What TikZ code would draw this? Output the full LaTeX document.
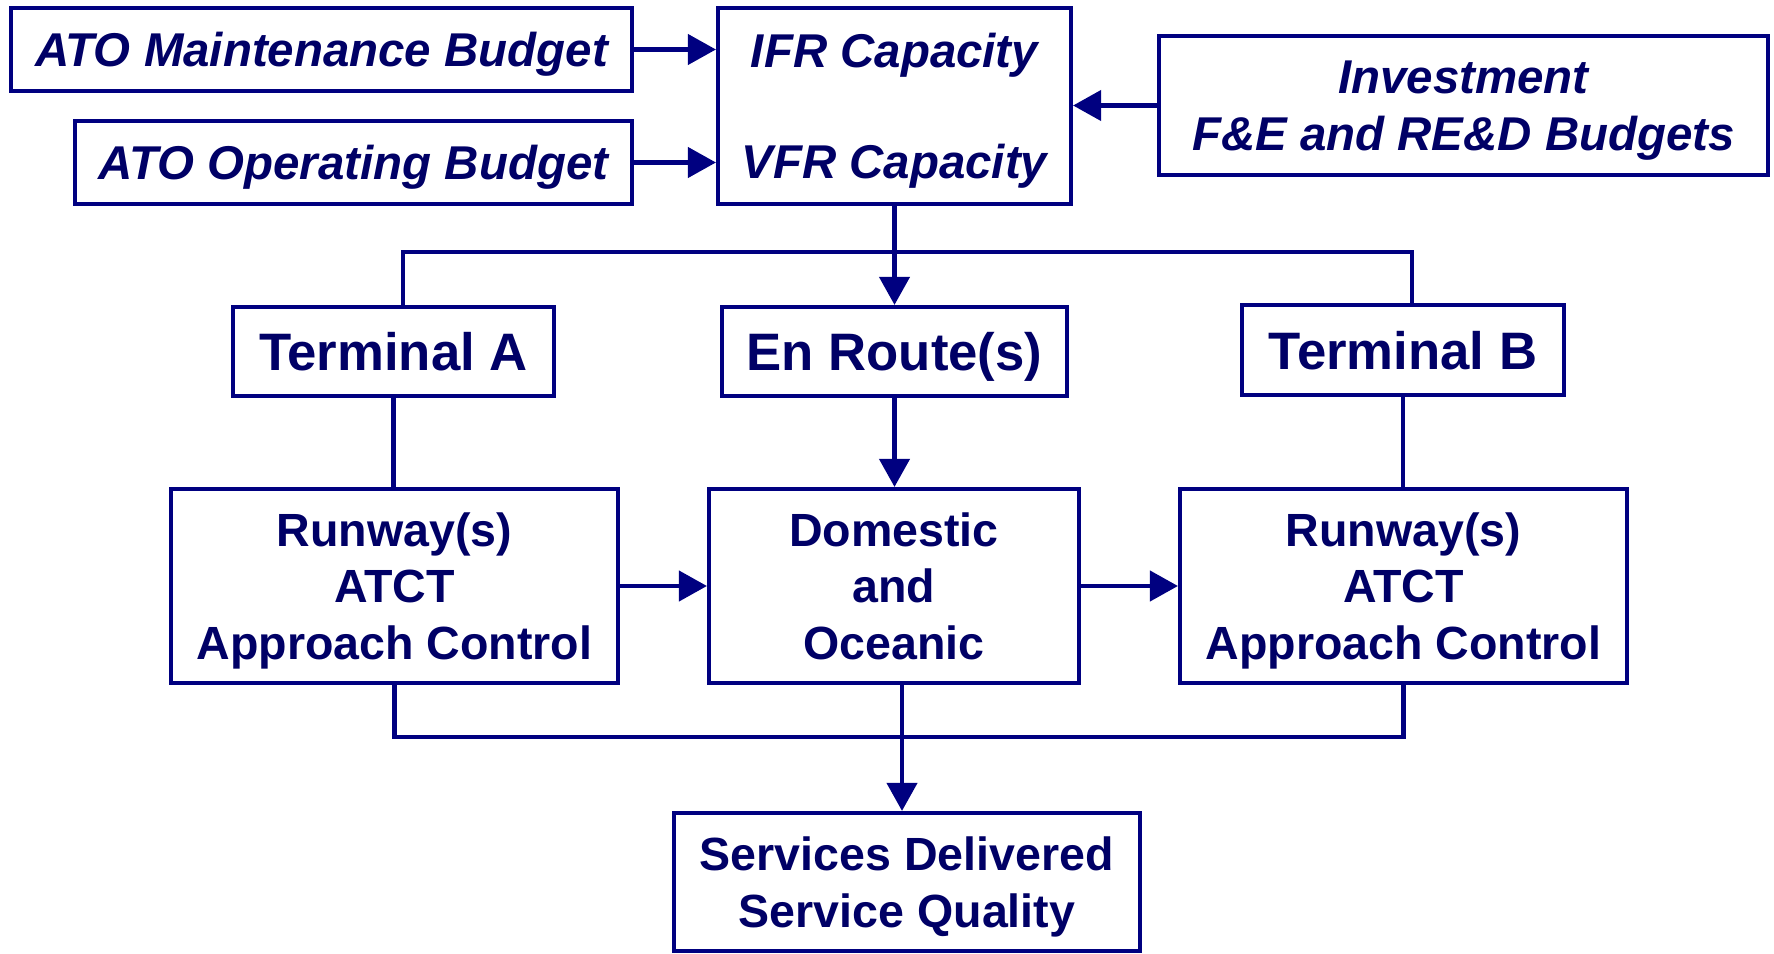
\documentclass[tikz,border=0pt]{standalone}
\usepackage{fontspec}
\setmainfont{Liberation Sans}
\usepackage{xcolor}
\usetikzlibrary{arrows.meta}
\usetikzlibrary{calc}
\definecolor{atoblue}{RGB}{0,0,128}
\definecolor{atotext}{RGB}{0,0,102}
\tikzstyle{box}=[draw=atoblue, line width=2.4pt, text=atotext, align=center, inner sep=0pt, text depth=0pt, font=\bfseries\fontsize{26.5}{32.2}\selectfont]
\tikzstyle{ibox}=[box, font=\bfseries\itshape\fontsize{27}{32.2}\selectfont]
\tikzstyle{tbox}=[box, font=\bfseries\fontsize{30}{36}\selectfont]
\tikzstyle{link}=[draw=atoblue, line width=2.4pt]
\tikzstyle{arr}=[link, -{Triangle[length=0.56cm,width=0.6cm]}]

\begin{document}
\begin{tikzpicture}[x=0.02cm, y=-0.02cm]
\useasboundingbox (0,0) rectangle (1774,953);
% budgets feeding capacity
\node[ibox, minimum width=12.42cm, minimum height=1.66cm] (maint) at (321.5,49.5) {ATO Maintenance Budget};
\node[ibox, minimum width=11.14cm, minimum height=1.66cm] (oper) at (353.5,162.5) {ATO Operating Budget};
\node[ibox, minimum width=7.06cm, minimum height=3.92cm] (cap) at (894.5,106) {IFR Capacity\\[1.09cm]VFR Capacity};
\node[ibox, minimum width=12.18cm, minimum height=2.78cm] (invest) at (1463.5,105.5) {Investment\\F\&E and RE\&D Budgets};
% facilities
\node[tbox, minimum width=6.42cm, minimum height=1.78cm] (termA) at (393.5,351.5) {Terminal A};
\node[tbox, minimum width=6.90cm, minimum height=1.78cm] (enroute) at (894.5,351.5) {En Route(s)};
\node[tbox, minimum width=6.44cm, minimum height=1.80cm] (termB) at (1403,350) {Terminal B};
\node[box, minimum width=8.94cm, minimum height=3.88cm] (rwyA) at (394.5,586) {Runway(s)\\ATCT\\Approach Control};
\node[box, minimum width=7.40cm, minimum height=3.88cm] (dom) at (894,586) {Domestic\\and\\Oceanic};
\node[box, minimum width=8.94cm, minimum height=3.88cm] (rwyB) at (1403.5,586) {Runway(s)\\ATCT\\Approach Control};
\node[box, minimum width=9.32cm, minimum height=2.76cm] (serv) at (907,882) {Services Delivered\\Service Quality};

\coordinate (bus) at (0,252);
\coordinate (low) at (0,737);
\coordinate (ta) at ($(termA.north)+(9.5,0)$);
\coordinate (tb) at ($(termB.north)+(9,0)$);
\coordinate (dd) at ($(dom.south)+(8,0)$);

\draw[arr] (maint.east) -- (maint.east -| cap.west);
\draw[arr] (oper.east) -- (oper.east -| cap.west);
\draw[arr] (invest.west) -- (invest.west -| cap.east);
\draw[arr] (cap.south) -- (enroute.north);
\draw[link] (ta) -- (ta |- bus) -- (tb |- bus) -- (tb);
\draw[link] (termA.south) -- (termA.south |- rwyA.north);
\draw[link] (termB.south) -- (termB.south |- rwyB.north);
\draw[arr] (enroute.south) -- (enroute.south |- dom.north);
\draw[arr] (rwyA.east) -- (dom.west);
\draw[arr] (dom.east) -- (rwyB.west);
\draw[link] (rwyA.south) -- (rwyA.south |- low) -- (rwyB.south |- low) -- (rwyB.south);
\draw[arr] (dd) -- (dd |- serv.north);
\end{tikzpicture}
\end{document}
